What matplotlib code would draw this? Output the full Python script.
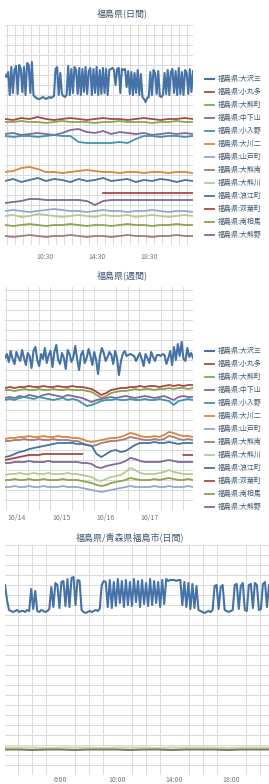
import numpy as np
import matplotlib
matplotlib.use("Agg")
import matplotlib.pyplot as plt

plt.rcParams['font.family'] = ['Noto Sans CJK JP', 'DejaVu Sans']

nan = np.nan

# ---------------- data ----------------
TITLES = ["福島県(日間)", "福島県(週間)", "福島県/青森県福島市(日間)"]

LEGEND_LABELS = [
    "福島県:大沢三", "福島県:小丸多", "福島県:大熊町", "福島県:中下山",
    "福島県:小入野", "福島県:大川二", "福島県:山戸町", "福島県:大熊南",
    "福島県:大熊川", "福島県:浪江町", "福島県:双葉町", "福島県:南相馬",
    "福島県:大熊野",
]
COLORS = ['#4572A7', '#AA4643', '#89A54E', '#80699B', '#3D96AE', '#DB843D', '#92A8CD',
          '#A47D7C', '#B5CA92', '#4572A7', '#AA4643', '#89A54E', '#80699B']

# chart 1 (daily) : hours
DAY_TICKS = [10.5, 14.5, 18.5]
DAY_TICKLABELS = ["10:30", "14:30", "18:30"]
day_s1 = [17.0, 16.8, 17.3,
          15.0, 17.8, 15.2, 17.5, 17.9, 15.1, 18.0, 17.6, 15.3, 17.8, 15.0, 18.2, 18.0, 15.2, 18.3,
          15.0, 14.8, 14.7, 14.6, 14.6, 14.7, 14.8, 14.7, 14.6, 14.7, 14.8, 14.7, 14.8, 14.9,
          17.6, 17.8, 15.0, 17.2, 15.1,
          14.9, 14.8, 15.0,
          17.9, 15.0, 17.6, 15.2, 17.8, 17.5, 15.1, 17.7, 15.0, 17.6, 15.3, 17.8, 15.1, 17.4,
          17.7, 15.0, 17.6, 15.2, 17.8, 15.0, 17.5, 15.1, 17.7, 15.2, 17.6, 15.0, 17.5,
          17.6, 17.7, 17.5, 16.0, 17.6, 17.7, 15.2, 17.6, 17.5, 17.6, 15.8,
          17.4, 15.1, 17.3, 15.0, 17.2, 15.2, 17.5, 15.0, 17.1,
          14.8, 14.6, 14.3, 14.7, 14.8,
          17.3, 15.0, 17.5, 17.2, 15.1, 17.4,
          14.9, 14.8, 15.0,
          17.2, 15.1, 17.5, 15.0, 17.3, 17.6, 15.2, 17.4, 15.0, 17.7, 15.1, 17.3, 15.0, 17.5,
          17.2, 15.1, 17.6, 15.3, 17.4]
day_s2 = [12.6, 12.5, 12.7, 12.6, 12.8, 12.6, 12.5, 12.6, 12.7, 12.6, 12.5, 12.6,
          12.7, 12.6, 12.6, 12.5, 12.6, 12.7, 12.6, 12.5, 12.6, 12.6, 12.7, 12.6]
day_s3 = [12.3, 12.3, 12.4, 12.3, 12.3, 12.2, 12.3, 12.4, 12.3, 12.3, 12.3, 12.2,
          12.3, 12.3, 12.4, 12.3, 12.3, 12.3, 12.2, 12.3, 12.3, 12.4, 12.3, 12.3]
day_s4 = [11.1, 11.2, 11.0, 11.1, 11.2, 11.1, 11.0, 11.2, 11.5, 11.6, 11.3, 11.2,
          11.4, 11.1, 11.3, 11.2, 11.1, 11.2, 11.0, 11.1, 11.2, 11.1, 11.2, 11.1]
day_s5 = [10.9, 10.8, 10.9, 10.9, 10.8, 10.9, 11.0, 10.9, 10.9, 10.3, 10.2, 10.2,
          10.2, 10.2, 10.3, 10.2, 10.6, 10.9, 10.9, 10.8, 10.9, 10.9, 10.8, 10.9]
day_s6 = [7.3, 7.4, 7.7, 7.8, 7.6, 7.3, 7.3, 7.2, 7.3, 7.4, 7.5, 7.4,
          7.3, 7.3, 7.2, 7.3, 7.3, 7.2, 7.3, 7.3, 7.2, 7.3, 7.3, 7.2]
day_s7 = [3.4, 3.5, 3.4, 3.3, 3.4, 3.5, 3.6, 3.5, 3.4, 3.4, 3.3, 3.4,
          3.5, 3.4, 3.4, 3.3, 3.4, 3.4, 3.5, 3.4, 3.3, 3.4, 3.4, 3.3]
day_s8 = [0.9, 0.8, 0.9, 1.0, 0.9, 0.8, 0.9, 0.9, 1.0, 0.9, 0.8, 0.9,
          0.9, 0.8, 0.9, 1.0, 0.9, 0.9, 0.8, 0.9, 0.9, 1.0, 0.9, 0.9]
day_s9 = [2.9, 3.0, 2.8, 2.9, 3.1, 3.0, 2.9, 2.8, 2.9, 3.0, 2.9, 2.8,
          3.0, 2.9, 2.9, 3.0, 2.8, 2.9, 3.0, 2.9, 2.8, 2.9, 3.0, 2.9]
day_s10 = [6.4, 6.6, 6.3, 6.5, 6.7, 6.4, 6.6, 6.5, 6.3, 6.6, 6.4, 6.5,
           6.7, 6.4, 6.5, 6.6, 6.3, 6.5, 6.4, 6.6, 6.5, 6.3, 6.5, 6.4]
day_s11 = [nan] * 12 + [5.2, 5.2, 5.2, 5.2, 5.2, 5.2, 5.2, 5.2, 5.2, 5.2, 5.2, 5.2]
day_s12 = [2.0, 1.9, 2.0, 2.1, 2.0, 1.9, 2.0, 2.0, 2.1, 2.0, 1.9, 2.0,
           2.0, 1.9, 2.0, 2.1, 2.0, 2.0, 1.9, 2.0, 2.0, 2.1, 2.0, 2.0]
day_s13 = [4.2, 4.3, 4.4, 4.6, 4.6, 4.5, 4.5, 4.5, 4.5, 4.5, 4.4, 4.0,
           4.4, 4.5, 4.5, 4.5, 4.5, 4.5, 4.5, 4.5, 4.5, 4.5, 4.5, 4.5]

# chart 2 (weekly) : day of month
WEEK_TICKS = [14, 15, 16, 17]
WEEK_TICKLABELS = ["10/14", "10/15", "10/16", "10/17"]
week_s1 = [15.2, 15.6, 14.8, 15.9, 15.1, 14.6, 15.8, 15.3, 14.9, 16.0, 15.2, 14.5, 15.7, 15.4, 14.2,
           15.9, 16.3, 15.0, 14.4, 15.6, 15.1, 16.2, 14.7, 15.5, 15.9, 14.3, 15.8, 16.5, 15.0, 14.6,
           15.7, 15.2, 14.1, 16.0, 15.6, 14.8, 15.3, 16.4, 15.1, 14.0, 15.5, 15.9, 14.7, 15.2, 16.1,
           15.4, 14.5, 15.8, 15.0, 13.6, 15.4, 16.2, 15.7, 14.9, 15.3, 15.8, 15.5, 14.6, 15.9, 15.2,
           13.5, 14.8, 15.6, 15.9, 15.4, 15.5, 15.6, 15.5, 15.4, 14.9, 15.3, 15.7, 15.1, 14.4, 15.6,
           15.2, 14.7, 15.8, 15.3, 14.9, 15.5, 15.5, 15.4, 15.6, 15.5, 14.6, 15.2, 15.9, 14.5, 16.3,
           15.0, 16.6, 15.4, 16.8, 15.1, 14.9, 16.2, 15.3, 15.7, 15.2]
week_s2 = [12.2, 12.3, 12.2, 12.3, 12.3, 12.4, 12.3, 12.3, 12.4, 12.3, 12.3, 12.4, 12.3, 12.3,
           12.4, 12.3, 12.3, 12.2, 12.1, 11.8, 11.5, 11.7, 12.0, 12.1, 12.2, 12.2, 12.3, 12.3,
           12.4, 12.3, 12.4, 12.4, 12.3, 12.4, 12.5, 12.4, 12.5, 12.4, 12.5, 12.5]
week_s3 = [12.0, 12.0, 11.9, 12.0, 12.1, 12.0, 12.0, 12.1, 12.0, 12.0, 12.1, 12.0, 12.0, 12.1,
           12.0, 12.0, 12.0, 11.9, 11.8, 11.5, 11.2, 11.4, 11.7, 11.8, 11.9, 11.9, 12.0, 12.1,
           12.0, 12.1, 12.1, 12.0, 12.1, 12.1, 12.2, 12.1, 12.2, 12.2, 12.1, 12.2]
week_s4 = [11.2, 11.3, 11.2, 11.4, 11.3, 11.5, 11.4, 11.3, 11.5, 11.6, 11.5, 11.4, 11.3, 11.5,
           11.4, 11.3, 11.2, 11.0, 10.8, 11.0, 11.1, 11.2, 11.3, 11.2, 11.3, 11.4, 11.3, 11.2,
           11.3, 11.4, 11.3, 11.2, 11.3, 11.4, 11.2, 11.0, 11.3, 11.4, 11.3, 11.3]
week_s5 = [11.0, 11.1, 11.0, 11.2, 11.3, 11.2, 11.1, 11.3, 11.2, 11.1, 11.0, 11.1, 11.2, 11.0,
           11.1, 11.0, 10.7, 10.4, 10.5, 10.7, 10.9, 11.0, 11.0, 11.1, 11.0, 11.0, 11.1, 11.0,
           11.0, 11.1, 11.0, 11.0, 11.1, 11.0, 10.9, 10.5, 10.9, 11.0, 11.1, 11.0]
week_s6 = [7.1, 7.2, 7.2, 7.3, 7.3, 7.4, 7.3, 7.3, 7.4, 7.3, 7.3, 7.4, 7.3, 7.3, 7.2, 7.2,
           7.1, 6.9, 6.8, 6.9, 7.0, 7.1, 7.2, 7.2, 7.3, 7.5, 7.7, 7.6, 7.4, 7.3, 7.3, 7.4,
           7.3, 7.5, 7.8, 7.7, 7.5, 7.4, 7.4, 7.3]
week_s7 = [2.3, 2.3, 2.4, 2.3, 2.3, 2.4, 2.3, 2.3, 2.4, 2.3, 2.3, 2.3, 2.4, 2.3, 2.3, 2.3,
           2.2, 2.1, 2.0, 1.9, 1.8, 1.9, 2.0, 2.1, 2.2, 2.3, 2.4, 2.3, 2.3, 2.3, 2.3, 2.4,
           2.3, 2.3, 2.4, 2.3, 2.3, 2.3, 2.4, 2.3]
week_s8 = [6.9, 6.9, 7.0, 7.0, 7.1, 7.0, 7.0, 7.1, 7.0, 7.0, 7.1, 7.0, 7.0, 7.0, 6.9, 6.9,
           6.7, 6.5, 6.4, 6.5, 6.7, 6.8, 6.9, 6.9, 7.0, 7.1, 7.3, 7.2, 7.1, 7.0, 7.0, 7.1,
           7.0, 7.1, 7.4, 7.3, 7.1, 7.0, 7.1, 7.0]
week_s9 = [3.5, 3.6, 3.6, 3.7, 3.6, 3.6, 3.7, 3.6, 3.6, 3.7, 3.6, 3.6, 3.6, 3.7, 3.6, 3.6,
           3.5, 3.4, 3.3, 3.0, 2.9, 3.1, 3.3, 3.4, 3.5, 3.8, 4.2, 4.0, 3.7, 3.6, 3.6, 3.6,
           3.7, 3.8, 4.0, 3.8, 3.7, 3.6, 3.6, 3.6]
week_s10 = [5.3, 5.4, 5.6, 5.8, 5.9, 6.1, 6.2, 6.3, 6.4, 6.5, 6.6, 6.7, 6.7, 6.7, 6.7, 6.6,
            6.6, 6.5, 6.4, 5.6, 5.3, 5.6, 5.9, 6.0, 5.8, 5.9, 6.2, 6.5, 6.7, 6.7, 6.7, 6.8,
            6.7, 6.7, 6.8, 6.7, 6.6, 6.7, 6.7, 6.7]
week_s11 = [5.0, 5.1, 5.2, 5.3, 5.4, 5.5, 5.5, 5.5, 5.6, 5.6, 5.6, 5.6, 5.6, 5.6, 5.6, 5.6,
            5.6] + [nan] * 20 + [5.5, 5.5, 5.5]
week_s12 = [3.0, 3.0, 3.1, 3.0, 3.0, 3.1, 3.0, 3.0, 3.1, 3.0, 3.0, 3.0, 3.1, 3.0, 3.0, 3.0,
            2.9, 2.8, 2.7, 2.5, 2.4, 2.5, 2.7, 2.8, 2.9, 3.0, 3.2, 3.1, 3.0, 3.0, 3.0, 3.1,
            3.0, 3.1, 3.2, 3.1, 3.0, 3.0, 3.1, 3.0]
week_s13 = [4.7, 4.7, 4.8, 4.8, 4.8, 4.9, 4.8, 4.8, 4.8, 4.9, 4.8, 4.8, 4.8, 4.8, 4.8, 4.8,
            4.7, 4.7, 4.6, 4.3, 4.2, 4.4, 4.5, 4.6, 4.7, 4.9, 5.2, 5.1, 4.9, 4.8, 4.8, 4.8,
            4.8, 4.9, 5.0, 4.9, 4.8, 4.8, 4.8, 4.8]

# chart 3 (daily, two prefectures) : hours
MON_TICKS = [6, 10, 14, 18]
MON_TICKLABELS = ["6:00", "10:00", "14:00", "18:00"]
mon_s1 = [19.0, 17.5, 16.5,
          16.4, 16.3, 16.4, 16.5, 16.3, 16.4, 16.4, 16.3, 16.5, 16.4,
          18.6, 16.6, 18.4,
          16.4, 16.3, 16.5, 16.4, 16.3, 16.4, 16.6,
          18.8, 16.8, 19.2, 19.0, 16.7,
          19.3, 19.4, 16.9,
          19.6, 16.8, 19.7, 19.8, 17.0, 19.5, 19.4,
          16.5, 16.3, 16.2, 16.3, 16.4, 16.3, 16.4, 16.5, 16.4, 16.6,
          19.0, 19.4, 19.3, 16.8,
          19.5, 16.7, 19.3, 16.9, 19.6, 17.2, 19.4, 16.8, 19.5, 17.0, 19.3, 16.9, 19.6, 17.3, 19.4,
          16.8, 19.5, 17.1, 19.2, 16.9, 19.6, 17.0, 19.4, 17.2, 19.3, 16.8, 19.5, 17.1, 19.6, 19.4,
          19.5, 19.5, 19.5, 19.4, 19.5, 19.5, 17.0,
          19.3, 16.8, 19.2, 16.6, 19.1, 16.7, 18.9, 16.5, 16.4,
          16.3, 16.2, 16.3, 16.4, 16.3, 16.5,
          18.9, 19.0, 16.6, 18.8, 19.0, 16.5, 16.4,
          16.3, 16.4, 16.5,
          19.0, 19.1, 16.6, 18.9, 19.2, 16.5, 16.4, 19.0, 19.1, 16.7, 19.2, 19.0, 16.5, 16.6,
          19.1, 19.3, 16.8, 19.0]
mon_s2 = [2.55, 2.55, 2.5, 2.55, 2.55, 2.5, 2.55, 2.55, 2.55, 2.5,
          2.55, 2.55, 2.5, 2.55, 2.55, 2.55, 2.5, 2.55, 2.55, 2.55]
mon_s3 = [2.75, 2.75, 2.75, 2.7, 2.75, 2.75, 2.75, 2.7, 2.75, 2.75,
          2.75, 2.7, 2.75, 2.75, 2.75, 2.75, 2.7, 2.75, 2.75, 2.75]

# ---------------- figure ----------------
W, H = 269, 784
fig = plt.figure(figsize=(W / 100, H / 100), dpi=100)
fig.patch.set_facecolor('white')

TITLE_COLOR = '#3E576F'
GRID_COLOR = '#dadada'


def px_rect(left, top, right, bottom):
    return [left / W, 1 - bottom / H, (right - left) / W, (bottom - top) / H]


def setup(ax, xlim, ylim, ticks, ticklabels, vgrid, pad):
    ax.set_xlim(xlim)
    ax.set_ylim(ylim)
    ax.set_xticks(ticks)
    ax.set_xticklabels(ticklabels)
    ax.set_xticks(vgrid, minor=True)
    ax.set_yticks(np.arange(0, ylim[1] + 0.001, 1.0))
    ax.set_yticklabels([])
    ax.tick_params(axis='y', length=0)
    ax.tick_params(axis='x', which='both', length=0, labelsize=5, colors='#777777', pad=pad)
    ax.grid(True, which='minor', axis='x', color=GRID_COLOR, lw=0.7)
    ax.grid(True, which='major', axis='y', color=GRID_COLOR, lw=0.7)
    ax.grid(False, which='major', axis='x')
    ax.set_axisbelow(True)
    for sp in ax.spines.values():
        sp.set_visible(False)


LW = 1.3

# chart 1
ax1 = fig.add_axes(px_rect(5, 25, 193, 245))
x1_lo, x1_hi = 7.4, 21.86
setup(ax1, (x1_lo, x1_hi), (0, 22), DAY_TICKS, DAY_TICKLABELS,
      np.arange(7.53, x1_hi, 0.63), 6)
day_series = [day_s1, day_s2, day_s3, day_s4, day_s5, day_s6, day_s7, day_s8, day_s9,
              day_s10, day_s11, day_s12, day_s13]
handles = []
for i, s in enumerate(day_series):
    x = np.linspace(x1_lo, x1_hi, len(s))
    h, = ax1.plot(x, s, color=COLORS[i], lw=1.5 if i == 0 else LW, solid_joinstyle='round')
    handles.append(h)

# chart 2
ax2 = fig.add_axes(px_rect(5, 287, 193, 510))
x2_lo, x2_hi = 13.73, 17.98
setup(ax2, (x2_lo, x2_hi), (0, 22.3), WEEK_TICKS, WEEK_TICKLABELS,
      np.arange(13.75, x2_hi, 0.25), 3)
week_series = [week_s1, week_s2, week_s3, week_s4, week_s5, week_s6, week_s7, week_s8,
               week_s9, week_s10, week_s11, week_s12, week_s13]
handles2 = []
for i, s in enumerate(week_series):
    x = np.linspace(x2_lo, x2_hi, len(s))
    h, = ax2.plot(x, s, color=COLORS[i], lw=1.5 if i == 0 else LW, solid_joinstyle='round')
    handles2.append(h)

# chart 3
ax3 = fig.add_axes(px_rect(5, 545, 269, 775))
x3_lo, x3_hi = 2.1, 20.63
setup(ax3, (x3_lo, x3_hi), (0, 23), MON_TICKS, MON_TICKLABELS,
      np.arange(3, x3_hi, 1.0), 1)
for s, c in [(mon_s1, '#4572A7'), (mon_s3, '#D6D6A4'), (mon_s2, '#7E7E62')]:
    x = np.linspace(x3_lo, x3_hi, len(s))
    ax3.plot(x, s, color=c, lw=1.5, solid_joinstyle='round')

# legends
leg_kw = dict(loc='upper left', bbox_transform=fig.transFigure, frameon=False, fontsize=5,
              handlelength=1.3, handletextpad=0.6, labelspacing=0.72, borderpad=0,
              borderaxespad=0, labelcolor=TITLE_COLOR)
ax1.legend(handles, LEGEND_LABELS, bbox_to_anchor=(205 / W, 1 - 75 / H), **leg_kw)
ax2.legend(handles2, LEGEND_LABELS, bbox_to_anchor=(205 / W, 1 - 347 / H), **leg_kw)

# titles
fig.text(122 / W, 1 - 13 / H, TITLES[0], ha='center', va='center', fontsize=6.5, color=TITLE_COLOR)
fig.text(122 / W, 1 - 275 / H, TITLES[1], ha='center', va='center', fontsize=6.5, color=TITLE_COLOR)
fig.text(130 / W, 1 - 537 / H, TITLES[2], ha='center', va='center', fontsize=6.5, color=TITLE_COLOR)

fig.savefig("out.png", dpi=100, facecolor='white')
